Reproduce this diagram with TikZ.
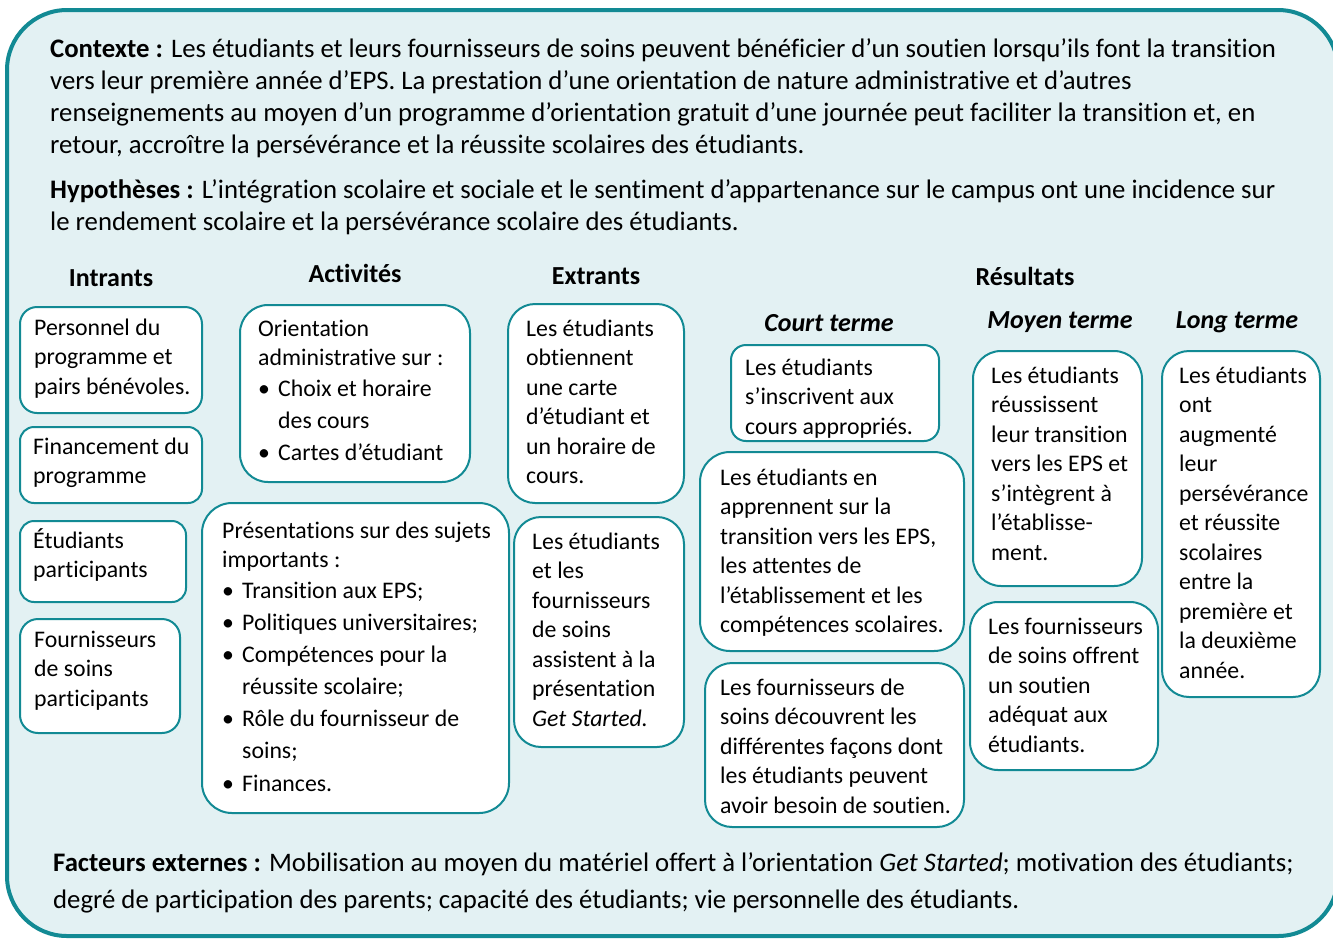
\documentclass[tikz,border=0pt]{standalone}
\usepackage{fontspec}
\setmainfont[Ligatures=NoCommon]{Carlito}
\definecolor{lmteal}{RGB}{18,138,148}
\definecolor{lmbg}{RGB}{227,241,243}
\newcommand\lmmain{\fontsize{26.75}{32.3}\selectfont}
\newcommand\lmboxfont{\fontsize{23.8}{29.5}\selectfont}
\newcommand\lmhead{\fontsize{26}{31}\selectfont\bfseries}
\newcommand\bul{\makebox[20pt][l]{\textbullet}}
\newcommand\bind{\hspace*{20pt}}
% stacked lines whose baseline is the first line
\newcommand\lmlines[1]{\begin{tabular}[t]{@{}l@{}}#1\end{tabular}}
% box frame: name, x1, y1, x2, y2, corner radius
\newcommand\lmbox[6]{%
  \pgfmathsetmacro\bw{#4-#2}\pgfmathsetmacro\bh{#5-#3}%
  \node[boxframe, rounded corners=#6pt, minimum width=\bw pt, minimum height=\bh pt]
    (#1) at ({(#2+#4)/2},{(#3+#5)/2}) {};}
\tikzset{
  boxframe/.style={draw=lmteal, line width=2pt, fill=white, inner sep=0pt},
  boxtext/.style={anchor=base west, inner sep=0pt, font=\lmboxfont},
  maintext/.style={anchor=base west, inner sep=0pt, font=\lmmain},
  colhead/.style={anchor=base, inner sep=0pt, font=\lmhead},
  subhead/.style={anchor=base, inner sep=0pt, font=\lmhead\itshape},
}
\begin{document}
\begin{tikzpicture}[x=1pt,y=-1pt]
\useasboundingbox (0,0) rectangle (1333,938);
% outer panel
\draw[lmteal, line width=4pt, fill=lmbg, rounded corners=60pt] (7,10) rectangle (1338,936);

% context and hypotheses
\node[maintext] (contexte) at (50,57) {\lmlines{\textbf{Contexte :} Les étudiants et leurs fournisseurs de soins peuvent bénéficier d’un soutien lorsqu’ils font la transition\\
vers leur première année d’EPS. La prestation d’une orientation de nature administrative et d’autres\\
renseignements au moyen d’un programme d’orientation gratuit d’une journée peut faciliter la transition et, en\\
retour, accroître la persévérance et la réussite scolaires des étudiants.}};
\node[maintext] (hypo) at (50,198) {\lmlines{\textbf{Hypothèses :} L’intégration scolaire et sociale et le sentiment d’appartenance sur le campus ont une incidence sur\\
le rendement scolaire et la persévérance scolaire des étudiants.}};

% column headings
\node[colhead] (hIn) at (111,286) {Intrants};
\node[colhead] (hAct) at (355,282) {Activités};
\node[colhead] (hOut) at (596,284) {Extrants};
\node[colhead] (hRes) at (1025,285) {Résultats};
\node[subhead] (hCourt) at (829,331) {Court terme};
\node[subhead] (hMoyen) at (1060,328) {Moyen terme};
\node[subhead] (hLong) at (1237,328) {Long terme};

% inputs
\lmbox{b1}{20}{307}{202}{413}{17}
\node[boxtext] (t1) at (34,335) {\lmlines{Personnel du\\programme et\\pairs bénévoles.}};
\lmbox{b2}{20}{427}{202}{503}{14}
\node[boxtext] (t2) at (33,454) {\lmlines{Financement du\\programme}};
\lmbox{b3}{20}{521}{186}{602}{14}
\node[boxtext] (t3) at (33,548) {\lmlines{Étudiants\\participants}};
\lmbox{b4}{20}{619}{180}{733}{18}
\node[boxtext] (t4) at (34,647) {\lmlines{Fournisseurs\\de soins\\participants}};

% activities
\lmbox{b5}{240}{305}{470}{482}{28}
\node[boxtext] (t5) at (258,336) {\lmlines{Orientation\\administrative sur :\\[1pt]
\bul Choix et horaire\\[2.5pt]\bind des cours\\[2.5pt]\bul Cartes d’étudiant}};
\lmbox{b6}{202}{503}{509}{813}{30}
\node[boxtext] (t6) at (222,538) {\lmlines{Présentations sur des sujets\\importants :\\[1pt]
\bul Transition aux EPS;\\[2.5pt]\bul Politiques universitaires;\\[2.5pt]
\bul Compétences pour la\\[2.5pt]\bind réussite scolaire;\\[2.5pt]
\bul Rôle du fournisseur de\\[3pt]\bind soins;\\[3pt]\bul Finances.}};

% outputs
\lmbox{b7}{508}{304}{684}{503}{27}
\node[boxtext] (t7) at (526,336) {\lmlines{Les étudiants\\obtiennent\\une carte\\d’étudiant et\\un horaire de\\cours.}};
\lmbox{b8}{514}{517}{684}{747}{27}
\node[boxtext] (t8) at (532,549) {\lmlines{Les étudiants\\et les\\fournisseurs\\de soins\\assistent à la\\présentation\\\textit{Get Started.}}};

% short-term outcomes
\lmbox{b9}{731}{345}{939}{441}{15}
\node[boxtext] (t9) at (745,375) {\lmlines{Les étudiants\\s’inscrivent aux\\cours appropriés.}};
\lmbox{b10}{700}{452}{964}{651}{30}
\node[boxtext] (t10) at (720,485) {\lmlines{Les étudiants en\\apprennent sur la\\transition vers les EPS,\\les attentes de\\l’établissement et les\\compétences scolaires.}};
\lmbox{b11}{705}{663}{964}{827}{27}
\node[boxtext] (t11) at (720,695) {\lmlines{Les fournisseurs de\\soins découvrent les\\différentes façons dont\\les étudiants peuvent\\avoir besoin de soutien.}};

% medium-term outcomes
\lmbox{b12}{973}{351}{1142}{586}{28}
\node[boxtext] (t12) at (991,383) {\lmlines{Les étudiants\\réussissent\\leur transition\\vers les EPS et\\s’intègrent à\\l’établisse-\\ment.}};
\lmbox{b13}{970}{602}{1158}{770}{28}
\node[boxtext] (t13) at (988,634) {\lmlines{Les fournisseurs\\de soins offrent\\un soutien\\adéquat aux\\étudiants.}};

% long-term outcome
\lmbox{b14}{1162}{351}{1320}{697}{27}
\node[boxtext] (t14) at (1179,383) {\lmlines{Les étudiants\\ont\\augmenté\\leur\\persévérance\\et réussite\\scolaires\\entre la\\première et\\la deuxième\\année.}};

% external factors
\node[maintext, font=\fontsize{26.75}{37}\selectfont] (ext) at (53,871) {\lmlines{\textbf{Facteurs externes :} Mobilisation au moyen du matériel offert à l’orientation \textit{Get Started}; motivation des étudiants;\\
degré de participation des parents; capacité des étudiants; vie personnelle des étudiants.}};
\end{tikzpicture}
\end{document}
